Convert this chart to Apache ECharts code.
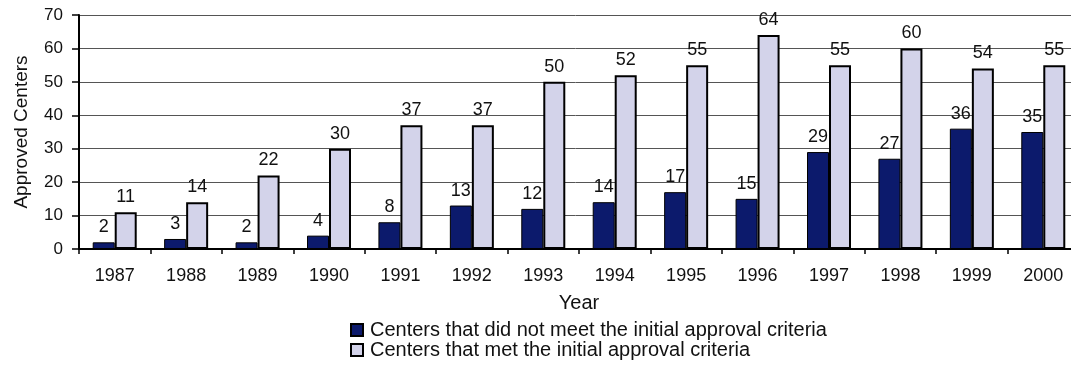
<!DOCTYPE html>
<html>
<head>
<meta charset="utf-8">
<script src="https://cdn.jsdelivr.net/npm/echarts@6/dist/echarts.min.js"></script>
<style>
  html, body { margin: 0; padding: 0; background: #fff; }
  #chart { width: 1071px; height: 370px; }
</style>
</head>
<body>
<div id="chart"></div>
<script>
var years = ['1987', '1988', '1989', '1990', '1991', '1992', '1993', '1994', '1995', '1996', '1997', '1998', '1999', '2000'];
var notMet = [2, 3, 2, 4, 8, 13, 12, 14, 17, 15, 29, 27, 36, 35];
var met = [11, 14, 22, 30, 37, 37, 50, 52, 55, 64, 55, 60, 54, 55];
var seriesNames = ['Centers that did not meet the initial approval criteria', 'Centers that met the initial approval criteria'];

var myChart = echarts.init(document.getElementById('chart'));
var font = 'Liberation Sans, Arial, sans-serif';
var option = {
    animation: false,
    textStyle: { fontFamily: font },
    grid: { left: 79, width: 1000, top: 15, height: 234, outerBoundsMode: 'none', containLabel: false },
    legend: {
        orient: 'vertical',
        left: 350,
        top: 320,
        padding: 0,
        itemGap: 0,
        itemWidth: 12,
        itemHeight: 12,
        icon: 'rect',
        textStyle: { fontSize: 20, lineHeight: 19, color: '#111', padding: [0, 0, 0, 2] },
        data: seriesNames
    },
    xAxis: {
        type: 'category',
        data: years,
        name: 'Year',
        nameLocation: 'middle',
        nameGap: 44,
        nameTextStyle: { fontSize: 20, color: '#111' },
        axisLine: { lineStyle: { color: '#000', width: 2 } },
        axisTick: { show: true, length: 5, lineStyle: { color: '#000', width: 1.5 } },
        axisLabel: { fontSize: 18, color: '#111', margin: 18 }
    },
    yAxis: {
        type: 'value',
        min: 0,
        max: 70,
        interval: 10,
        name: 'Approved Centers',
        nameLocation: 'middle',
        nameGap: 48,
        nameTextStyle: { fontSize: 19, color: '#111' },
        axisLine: { show: true, lineStyle: { color: '#000', width: 2 } },
        axisTick: { show: true, length: 7, lineStyle: { color: '#000', width: 1.5 } },
        axisLabel: { fontSize: 17, color: '#111', margin: 16 },
        splitLine: { lineStyle: { color: '#555', width: 1 } }
    },
    series: [
        {
            name: seriesNames[0],
            type: 'bar',
            data: notMet,
            barWidth: 22,
            barGap: '0%',
            itemStyle: { color: '#0c1a6c', borderColor: '#000', borderWidth: 1 },
            label: { show: true, position: 'top', fontSize: 18, color: '#111', distance: 6 }
        },
        {
            name: seriesNames[1],
            type: 'bar',
            data: met,
            barWidth: 22,
            barGap: '0%',
            itemStyle: { color: '#d3d3ea', borderColor: '#000', borderWidth: 2 },
            label: { show: true, position: 'top', fontSize: 18, color: '#111', distance: 6 }
        }
    ]
};
myChart.setOption(option);
</script>
</body>
</html>
